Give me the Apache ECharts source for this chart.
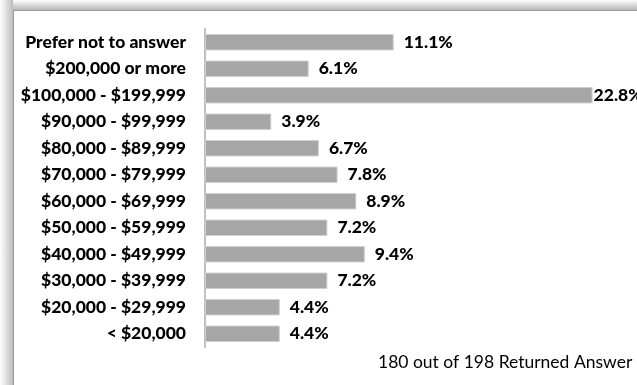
<!DOCTYPE html>
<html>
<head>
<meta charset="utf-8">
<script src="https://cdn.jsdelivr.net/npm/echarts@6/dist/echarts.min.js"></script>
<style>
html,body{margin:0;padding:0;width:637px;height:385px;overflow:hidden;background:#fff;}
#shadowL{position:absolute;left:0;top:0;width:13px;height:385px;background:linear-gradient(to right,#ffffff,#e6e6e6 40%,#bcbcbc);}
#shadowT{position:absolute;left:0;top:0;width:637px;height:10px;background:linear-gradient(to bottom,#ffffff,#e0e0e0 40%,#b8b8b8);}
#frame{position:absolute;left:13px;top:10px;width:640px;height:390px;border:1px solid #9a9a9a;background:#fff;}
#chart{position:absolute;left:0;top:0;width:637px;height:385px;}
</style>
</head>
<body>
<div id="shadowT"></div>
<div id="shadowL"></div>
<div id="frame"></div>
<div id="chart"></div>
<script>
var categories = ["Prefer not to answer","$200,000 or more","$100,000 - $199,999","$90,000 - $99,999","$80,000 - $89,999","$70,000 - $79,999","$60,000 - $69,999","$50,000 - $59,999","$40,000 - $49,999","$30,000 - $39,999","$20,000 - $29,999","< $20,000"];
var values = [11.1, 6.1, 22.8, 3.9, 6.7, 7.8, 8.9, 7.2, 9.4, 7.2, 4.4, 4.4];
var footnote = "180 out of 198 Returned Answer";

var maxVal = Math.max.apply(null, values);
var seriesData = values.map(function(v){
  return v === maxVal ? {value: v, label: {distance: 1}} : v;
});

var chart = echarts.init(document.getElementById('chart'), null, {renderer:'canvas'});
chart.setOption({
  backgroundColor: 'transparent',
  animation: false,
  grid: {left: 205, top: 29, width: 425, height: 318, containLabel: false},
  xAxis: {type: 'value', min: 0, max: 25, show: false},
  yAxis: {
    type: 'category', data: categories, inverse: true,
    axisLine: {show: true, lineStyle: {color: '#c0c0c0', width: 2}},
    axisTick: {show: false},
    axisLabel: {margin: 19, color: '#000', fontFamily: 'Lato', fontWeight: 900, fontSize: 17.5}
  },
  series: [{
    type: 'bar', data: seriesData, barCategoryGap: '38%',
    itemStyle: {color: '#a6a6a6', borderColor: '#d0d0d0', borderWidth: 1},
    label: {show: true, position: 'right', distance: 10, color: '#000', fontFamily: 'Lato', fontWeight: 900, fontSize: 17.5,
      formatter: function(p){ return p.value.toFixed(1) + '%'; }}
  }],
  graphic: [{type: 'text', left: 378, top: 353, style: {text: footnote, fill: '#000', font: '17.5px Lato'}}]
});
</script>
</body>
</html>
